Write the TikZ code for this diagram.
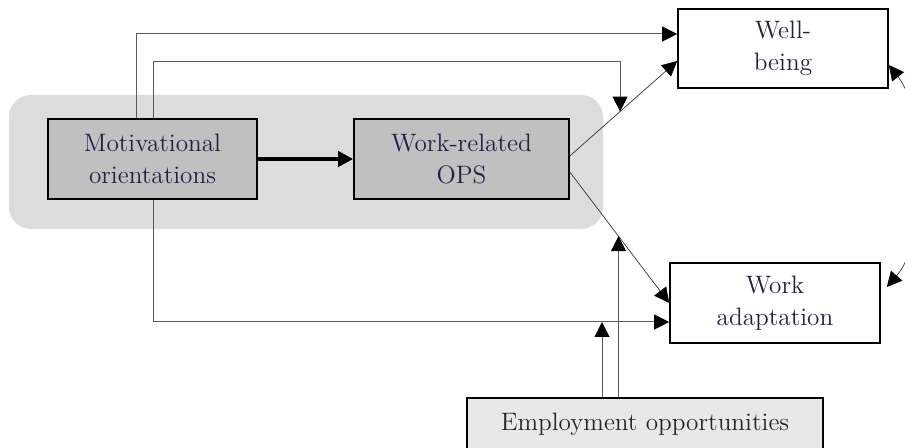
\documentclass[tikz,border=0pt]{standalone}
\usepackage{tikz}
\usetikzlibrary{arrows.meta}

\definecolor{inknavy}{RGB}{32,32,72}
\definecolor{linegray}{RGB}{90,90,90}
\definecolor{panelgray}{RGB}{220,220,220}
\definecolor{boxgray}{RGB}{192,192,192}
\definecolor{empgray}{RGB}{232,232,232}

\tikzset{
  var/.style={draw=black, line width=0.8pt, align=center, text=inknavy,
    font=\fontsize{12.6}{16}\selectfont, inner sep=0pt},
  tip/.tip={Triangle[length=7.5pt,width=7.5pt,color=black]},
  link/.style={draw=linegray, line width=0.5pt, -tip},
  thinlink/.style={draw=black!80, line width=0.35pt, -tip},
}

\begin{document}
\begin{tikzpicture}[x=0.5pt, y=-0.5pt]
        \useasboundingbox (0,0) rectangle (905,448);
        % shaded panel behind the two predictors
        \fill[panelgray, rounded corners=11pt] (9,95) rectangle (603,229);

        \node[var, fill=boxgray, minimum width=104.5pt, minimum height=40pt] (mot) at (152.5,159) {Motivational\\orientations};
        \node[var, fill=boxgray, minimum width=107.5pt, minimum height=40pt] (ops) at (461.5,159) {Work-related\\OPS};
        \node[var, fill=white, minimum width=105pt, minimum height=39.5pt] (well) at (783,48.5) {Well-\\being};
        \node[var, fill=white, minimum width=105pt, minimum height=40pt] (adapt) at (775,303) {Work\\adaptation};
        \node[var, fill=empgray, text=black!85, minimum width=178pt, minimum height=26pt] (emp) at (645,424) {Employment opportunities};

        \draw[black, line width=2pt, -tip] (mot) -- (ops);

        \draw[thinlink] ([yshift=1.5pt]ops.east) -- ([yshift=-6.25pt]well.west) coordinate[pos=0.468] (m2);
        \draw[thinlink] ([yshift=-6.5pt]ops.east) -- (adapt.west) coordinate[pos=0.49] (m3);
        \coordinate (aw) at ([yshift=-9.5pt]adapt.west);

        \draw[link] (mot.north -| 136,0) |- ([yshift=7.25pt]well.west);
        \draw[link] (mot.north -| 153,0) |- (m2 |- 0,62) -- (m2);
        \draw[link] (mot.south -| 153,0) |- (aw);

        \draw[link] (emp.north -| 602,0) -- (aw -| 602,0);
        \draw[link] (emp.north -| m3) -- (m3);

        \draw[thinlink, tip-tip]
            ([yshift=-8.25pt]well.east) .. controls (928,115) and (928,240) .. ([xshift=3pt,yshift=8pt]adapt.east);
    \end{tikzpicture}
\end{document}
